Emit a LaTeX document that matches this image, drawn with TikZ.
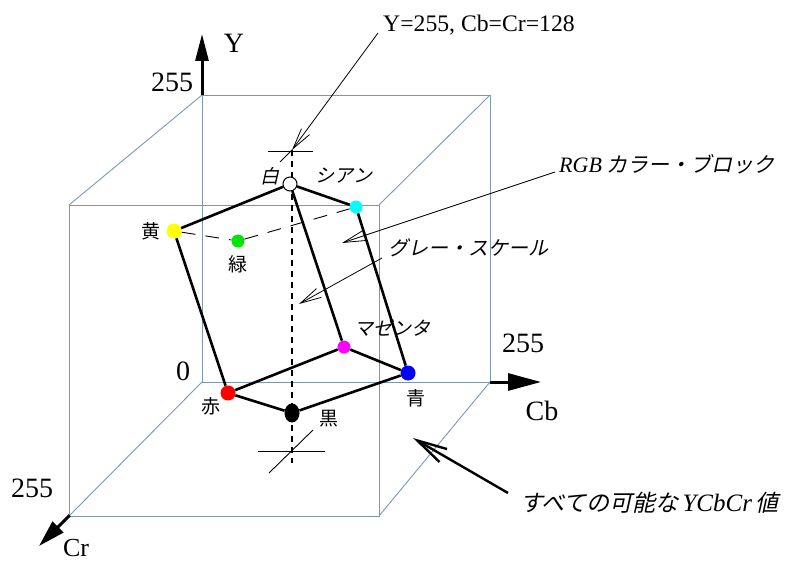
\documentclass[tikz,border=0pt]{standalone}
\usepackage{fontspec}
\setmainfont{Liberation Serif}
\newfontfamily\jp{Noto Sans CJK JP}
\newfontfamily\jpit[FakeSlant=0.22]{Noto Sans CJK JP}
\usetikzlibrary{arrows.meta,shapes.geometric}
\definecolor{cubec}{RGB}{125,150,182}
\definecolor{pyellow}{RGB}{255,255,0}
\definecolor{pgreen}{RGB}{0,230,0}
\definecolor{pcyan}{RGB}{0,255,255}
\definecolor{pmagenta}{RGB}{255,0,255}
\definecolor{pblue}{RGB}{0,0,255}
\definecolor{pred}{RGB}{255,0,0}
\begin{document}
\begin{tikzpicture}[x=1pt,y=-1pt,
  cube/.style={draw=cubec,line width=0.9pt},
  axisline/.style={line width=3pt},
  edge/.style={line width=2.6pt},
  dot/.style={circle,inner sep=0pt,minimum size=14pt},
  hidden/.style={line width=0.9pt,dash pattern=on 14pt off 10pt},
  grayaxis/.style={line width=1.1pt,dash pattern=on 6pt off 5pt},
  tick/.style={line width=0.9pt},
  leader/.style={line width=0.8pt,-{Straight Barb[length=21pt,width=10pt]}},
  bigleader/.style={line width=2.4pt,-{Straight Barb[length=30pt,width=15pt,line width=2.4pt]}},
  big/.style={font=\fontsize{28}{30}\selectfont,inner sep=0pt},
  mid/.style={font=\fontsize{23.7}{25}\selectfont,inner sep=0pt},
  jlab/.style={font=\jp\fontsize{19}{21}\selectfont,inner sep=0pt},
  jitlab/.style={font=\jpit\fontsize{19}{21}\selectfont,inner sep=0pt},
  jnote/.style={font=\jpit\fontsize{20}{22}\selectfont,inner sep=0pt}
]
\useasboundingbox (0,0) rectangle (792,561);
% cube
\coordinate (b1) at (202,95);
\coordinate (b2) at (490,95);
\coordinate (b3) at (490,382);
\coordinate (b4) at (202,382);
\coordinate (f1) at (69,205);
\coordinate (f2) at (379,205);
\coordinate (f3) at (379,516);
\coordinate (f4) at (69,516);
\draw[cube] (b1)--(b2)--(b3)--(b4)--cycle;
\draw[cube] (f1)--(f2)--(f3)--(f4)--cycle;
\draw[cube] (b1)--(f1) (b2)--(f2) (b3)--(f3) (b4)--(f4);
% axes
\coordinate (ytip) at (202,34);
\coordinate (cbtip) at (541,382);
\coordinate (crtip) at (39,546);
\draw[axisline,-{Triangle[length=27pt,width=13pt]}] (b1) -- (ytip);
\draw[axisline,-{Triangle[length=33pt,width=17pt]}] (b3) -- (cbtip);
\draw[axisline,shorten <=-1pt,-{Triangle[length=27pt,width=15pt]}] (f4) -- (crtip);
% gray axis
\coordinate (gtop) at (292,150);
\coordinate (gbot) at (292,463);
\draw[grayaxis] (gtop) -- (gbot);
\coordinate (t1a) at (268,151);
\coordinate (t1b) at (313,151);
\coordinate (t1c) at (280,162);
\coordinate (t2a) at (258,451);
\coordinate (t2b) at (325,451);
\coordinate (t2c) at (313,430);
\coordinate (t2d) at (269,473);
\draw[tick] (t1a) -- (t1b);
\draw[tick] (gtop) -- (t1c);
\draw[tick] (t2a) -- (t2b);
\draw[tick] (t2c) -- (t2d);
% colour points
\node[dot,fill=pyellow,minimum size=15pt] (yel) at (174,231) {};
\node[dot,fill=pgreen,minimum size=13pt] (grn) at (238,241) {};
\node[dot,fill=pcyan,minimum size=13pt] (cyn) at (356,207) {};
\node[dot,fill=pmagenta,minimum size=13pt] (mag) at (344,347) {};
\node[dot,fill=pblue,minimum size=15pt] (blu) at (408,373) {};
\node[dot,fill=pred,minimum size=15pt] (rd) at (228,393) {};
\node[ellipse,fill=black,inner sep=0pt,minimum width=15pt,minimum height=19pt] (blk) at (292,413) {};
\node[dot,draw=black,fill=white,line width=1pt,minimum size=14pt] (wht) at (290,184) {};
% hidden edges
\draw[hidden] (yel) -- (grn) -- (cyn);
% visible edges
\draw[edge] (wht) -- (yel);
\draw[edge] (wht) -- (cyn);
\draw[edge] (wht) -- (mag);
\draw[edge] (cyn) -- (blu);
\draw[edge] (yel) -- (rd);
\draw[edge] (rd) -- (mag);
\draw[edge] (mag) -- (blu);
\draw[edge] (rd) -- (blk);
\draw[edge] (blk) -- (blu);
% axis labels
\node[big,anchor=base] (ly) at (234,53) {Y};
\node[big,anchor=base] (ly255) at (172,92) {255};
\node[big,anchor=base] (l0) at (183,380) {0};
\node[big,anchor=base] (lcb255) at (523,352) {255};
\node[big,anchor=base] (lcb) at (542,420) {Cb};
\node[big,anchor=base] (lcr255) at (32,497) {255};
\node[big,font=\fontsize{26}{28}\selectfont,anchor=base] (lcr) at (76,556) {Cr};
% point labels
\node[jitlab] (twht) at (270,176) {白};
\node[jitlab] (tcyn) at (344,176) {シアン};
\node[jlab] (tyel) at (151,231) {黄};
\node[jlab] (tgrn) at (238,264) {緑};
\node[jitlab] (tmag) at (392,328) {マゼンタ};
\node[jlab] (tblu) at (416,398) {青};
\node[jlab] (trd) at (211,406) {赤};
\node[jlab] (tblk) at (329,419) {黒};
% annotations
\node[mid,anchor=base west] (nY) at (383,32) {Y=255, Cb=Cr=128};
\draw[leader] ([xshift=-5pt,yshift=-1pt]nY.base west) -- (gtop);
\node[jnote,font=\jpit\fontsize{21}{23}\selectfont,anchor=west] (nRGB) at (559,164) {{\rmfamily\itshape\fontsize{22}{24}\selectfont RGB} カラー・ブロック};
\coordinate (rgbtip) at (342,243);
\draw[leader] ([xshift=-4pt,yshift=-8pt]nRGB.west) -- (rgbtip);
\node[jnote,anchor=west] (nGray) at (388,248) {グレー・スケール};
\coordinate (graytip) at (299,304);
\draw[leader] ([xshift=-6pt,yshift=-10pt]nGray.west) -- (graytip);
\node[jnote,font=\jpit\fontsize{23}{25}\selectfont,anchor=west] (nAll) at (520,503) {すべての可能な\,{\rmfamily\itshape\fontsize{25}{27}\selectfont YCbCr}\,値};
\coordinate (alltip) at (413,438);
\draw[bigleader] ([xshift=-12pt,yshift=10pt]nAll.west) -- (alltip);
\end{tikzpicture}
\end{document}
